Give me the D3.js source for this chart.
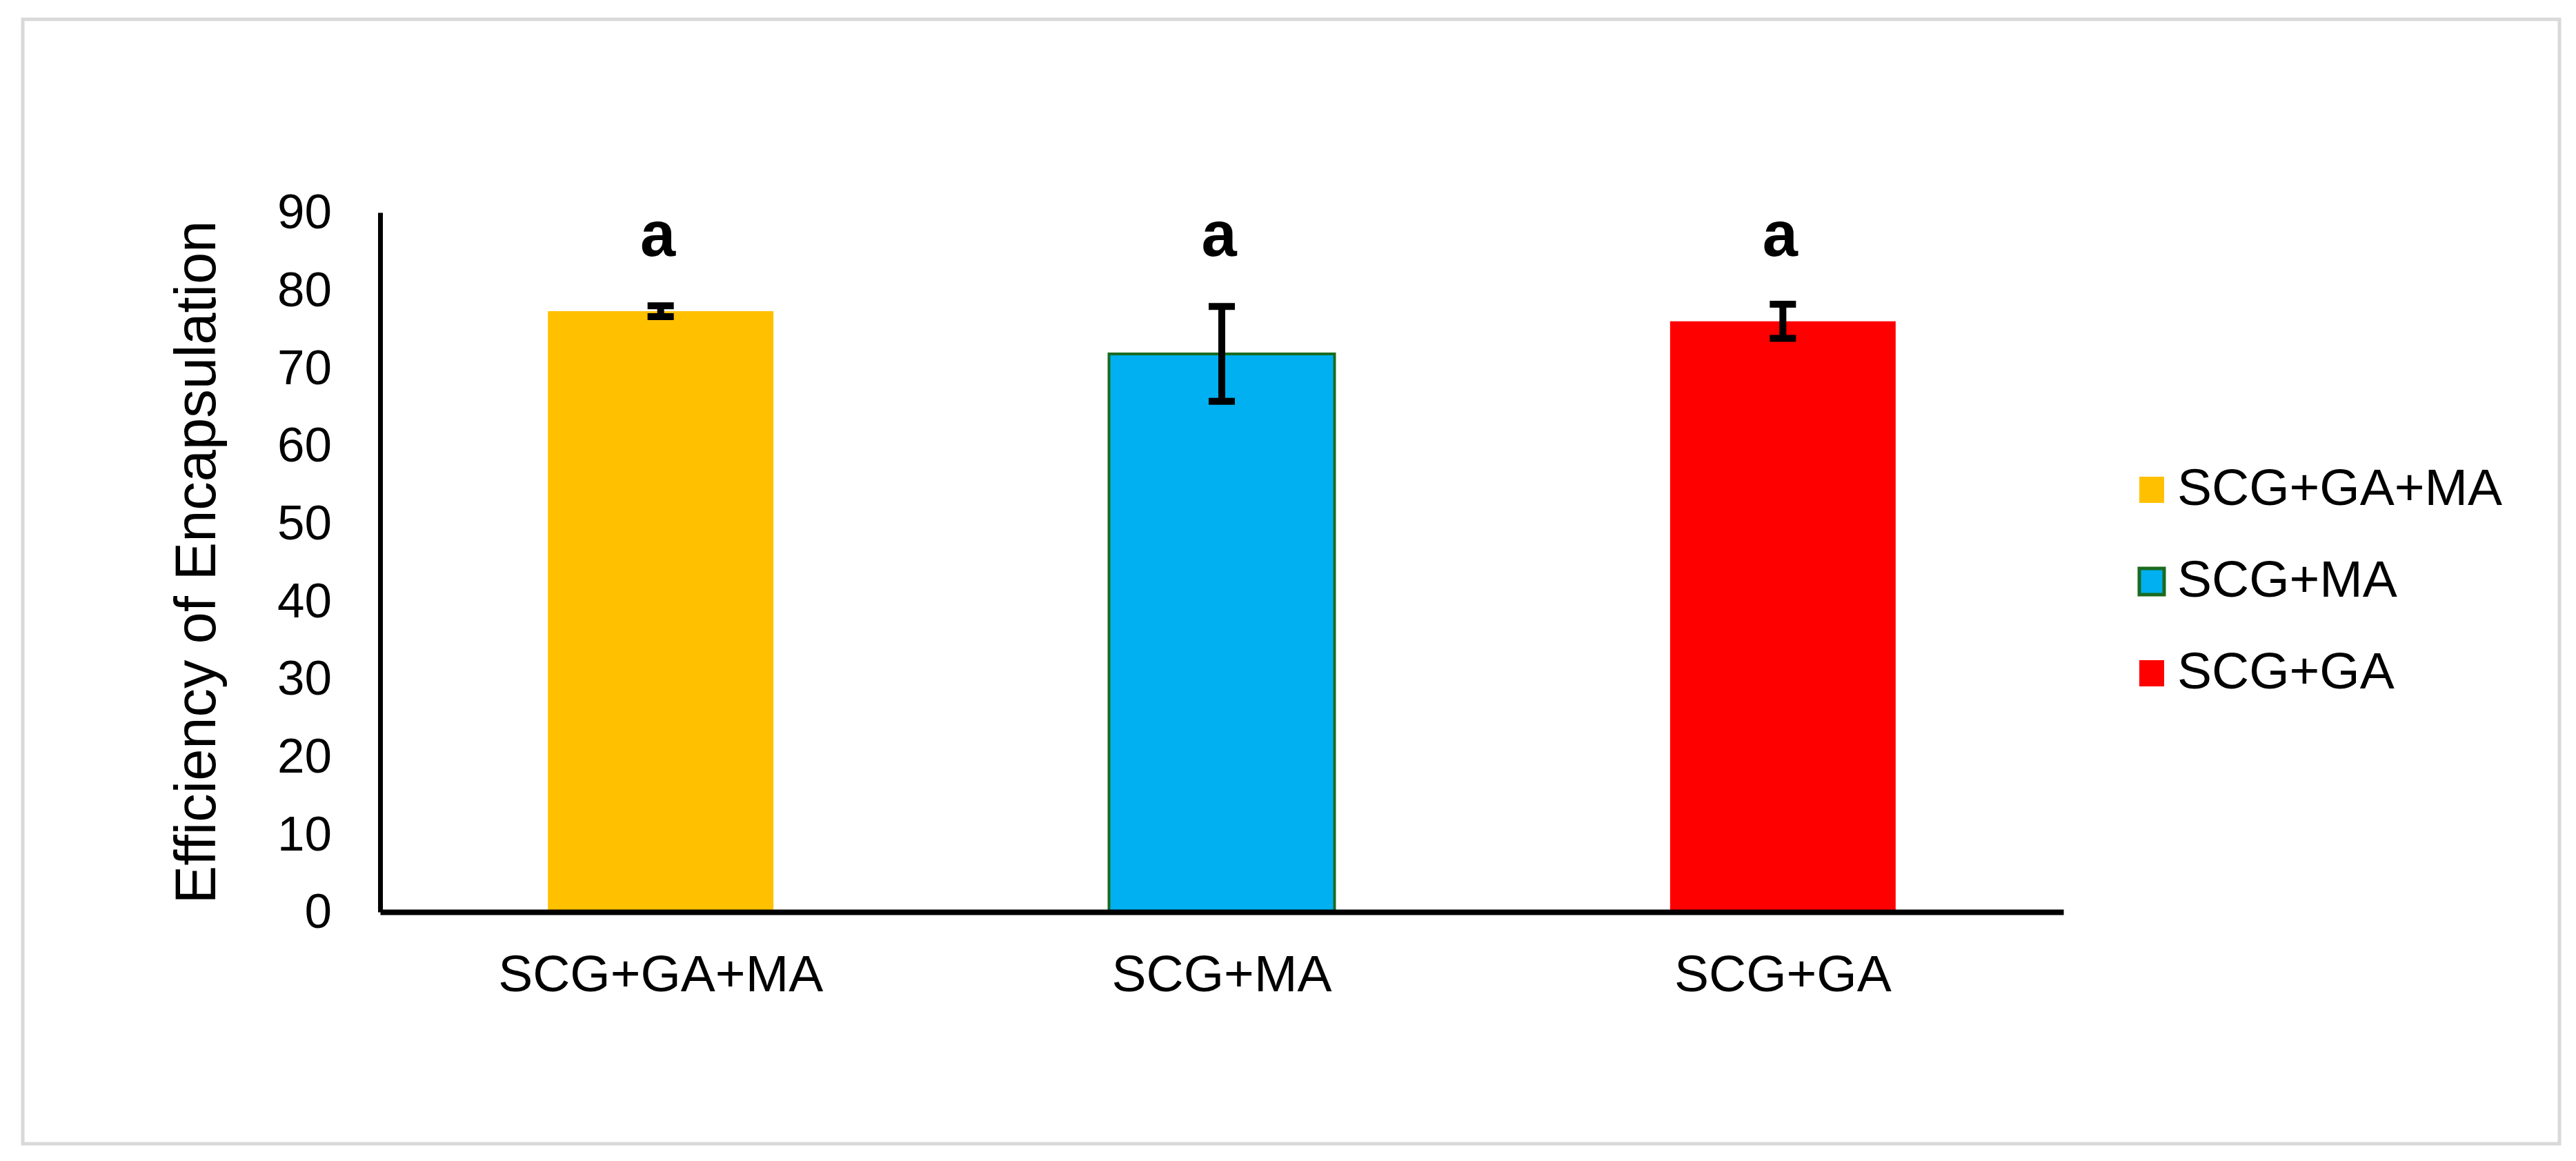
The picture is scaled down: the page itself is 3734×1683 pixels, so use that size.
<!DOCTYPE html>
<html>
<head>
<meta charset="utf-8">
<script src="https://cdn.jsdelivr.net/npm/d3@7"></script>
<style>
  body { margin: 0; background: #fff; }
  text { font-family: "Liberation Sans", Arial, sans-serif; fill: #000; }
</style>
</head>
<body>
<div id="chart"></div>
<script>
// data
const categories = ["SCG+GA+MA", "SCG+MA", "SCG+GA"];
const efficiency = [77.3, 71.8, 76.0];
const stdError = [0.7, 6.1, 2.2];
const letters = ["a", "a", "a"];
const barColors = ["#FFC000", "#00B0F0", "#FF0000"];
const barStrokes = ["none", "#1B6B1F", "none"];
const yTicks = [0, 10, 20, 30, 40, 50, 60, 70, 80, 90];

const width = 3734, height = 1683;

const svg = d3.select("#chart")
    .append("svg")
    .attr("width", width)
    .attr("height", height)
    .attr("viewBox", `0 0 ${width} ${height}`);

// light frame round the whole figure
svg.append("rect")
    .attr("x", 33).attr("y", 28)
    .attr("width", 3677).attr("height", 1630)
    .attr("fill", "#fff")
    .attr("stroke", "#d9d9d9")
    .attr("stroke-width", 5);

const x = d3.scaleBand()
    .domain(categories)
    .range([551, 2991])
    .paddingInner(0.598)
    .paddingOuter(0.299);

const y = d3.scaleLinear()
    .domain([0, 90])
    .range([1322, 308]);

const rows = categories.map((c, i) => ({
    key: c, value: efficiency[i], err: stdError[i],
    letter: letters[i], fill: barColors[i], stroke: barStrokes[i]
}));

// bars
svg.selectAll("rect.bar")
    .data(rows)
    .enter()
    .append("rect")
    .attr("class", "bar")
    .attr("x", d => x(d.key))
    .attr("y", d => y(d.value))
    .attr("width", x.bandwidth())
    .attr("height", d => y(0) - y(d.value))
    .attr("fill", d => d.fill)
    .attr("stroke", d => d.stroke)
    .attr("stroke-width", 4);

// error bars
const capHalf = 19;
const err = svg.selectAll("g.err")
    .data(rows)
    .enter()
    .append("g")
    .attr("class", "err")
    .attr("stroke", "#000")
    .attr("stroke-width", 10);

err.append("line")
    .attr("x1", d => x(d.key) + x.bandwidth() / 2)
    .attr("x2", d => x(d.key) + x.bandwidth() / 2)
    .attr("y1", d => y(d.value + d.err))
    .attr("y2", d => y(d.value - d.err));

err.append("line")
    .attr("x1", d => x(d.key) + x.bandwidth() / 2 - capHalf)
    .attr("x2", d => x(d.key) + x.bandwidth() / 2 + capHalf)
    .attr("y1", d => y(d.value + d.err))
    .attr("y2", d => y(d.value + d.err));

err.append("line")
    .attr("x1", d => x(d.key) + x.bandwidth() / 2 - capHalf)
    .attr("x2", d => x(d.key) + x.bandwidth() / 2 + capHalf)
    .attr("y1", d => y(d.value - d.err))
    .attr("y2", d => y(d.value - d.err));

// significance letters
svg.selectAll("text.letter")
    .data(rows)
    .enter()
    .append("text")
    .attr("class", "letter")
    .attr("x", d => x(d.key) + x.bandwidth() / 2 - 4)
    .attr("y", y(84.4))
    .attr("text-anchor", "middle")
    .attr("font-size", 92)
    .attr("font-weight", "bold")
    .text(d => d.letter);

// y axis
const yAxis = svg.append("g")
    .attr("transform", `translate(${x.range()[0]},0)`)
    .call(d3.axisLeft(y).tickValues(yTicks).tickSize(0).tickPadding(70));
yAxis.select(".domain").attr("stroke", "#000").attr("stroke-width", 7);
yAxis.selectAll("text")
    .attr("font-size", 71)
    .attr("font-family", "Liberation Sans, Arial, sans-serif");

// x axis
const xAxis = svg.append("g")
    .attr("transform", `translate(0,${y(0)})`)
    .call(d3.axisBottom(x).tickSize(0).tickSizeOuter(0));
xAxis.select(".domain").attr("stroke", "#000").attr("stroke-width", 8);
xAxis.selectAll("text")
    .attr("y", 115)
    .attr("dy", null)
    .attr("font-size", 75)
    .attr("font-family", "Liberation Sans, Arial, sans-serif");

// y axis title
svg.append("text")
    .attr("transform", "translate(312,815) rotate(-90)")
    .attr("text-anchor", "middle")
    .attr("font-size", 83)
    .text("Efficiency of Encapsulation");

// legend
const legend = svg.selectAll("g.legend")
    .data(rows)
    .enter()
    .append("g")
    .attr("class", "legend")
    .attr("transform", (d, i) => `translate(3101,${710 + i * 133})`);

legend.append("rect")
    .attr("x", 0).attr("y", -19)
    .attr("width", 36).attr("height", 38)
    .attr("fill", d => d.fill)
    .attr("stroke", d => d.stroke)
    .attr("stroke-width", 5);

legend.append("text")
    .attr("x", 55)
    .attr("y", 22)
    .attr("font-size", 75)
    .text(d => d.key);
</script>
</body>
</html>
